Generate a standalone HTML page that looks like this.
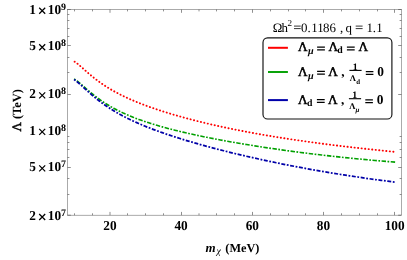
<!DOCTYPE html>
<html><head><meta charset="utf-8"><title>plot</title>
<style>
html,body{margin:0;padding:0;background:#fff;}
svg{display:block;will-change:transform;opacity:0.999}
text{font-family:"Liberation Serif",serif;font-size:13.3px;fill:#000;text-rendering:geometricPrecision}
.b{font-weight:bold}
.bi{font-weight:bold;font-style:italic}
.i{font-style:italic}
.r{font-weight:normal}
</style></head><body>
<svg width="407" height="260" viewBox="0 0 407 260">
<rect width="407" height="260" fill="#fff"/>
<rect x="67.5" y="9.5" width="334.00" height="205.70" fill="none" stroke="#666" stroke-width="0.55"/>
<path d="M74.50,215.2v-1.9M74.50,9.5v1.9M92.50,215.2v-1.9M92.50,9.5v1.9M110.00,215.2v-3.3M110.00,9.5v3.3M127.50,215.2v-1.9M127.50,9.5v1.9M145.50,215.2v-1.9M145.50,9.5v1.9M163.50,215.2v-1.9M163.50,9.5v1.9M181.50,215.2v-3.3M181.50,9.5v3.3M199.00,215.2v-1.9M199.00,9.5v1.9M216.50,215.2v-1.9M216.50,9.5v1.9M234.50,215.2v-1.9M234.50,9.5v1.9M252.50,215.2v-3.3M252.50,9.5v3.3M270.50,215.2v-1.9M270.50,9.5v1.9M288.50,215.2v-1.9M288.50,9.5v1.9M305.50,215.2v-1.9M305.50,9.5v1.9M323.50,215.2v-3.3M323.50,9.5v3.3M341.50,215.2v-1.9M341.50,9.5v1.9M359.50,215.2v-1.9M359.50,9.5v1.9M377.50,215.2v-1.9M377.50,9.5v1.9M394.50,215.2v-3.3M394.50,9.5v3.3M67.5,94.50h3.3M401.5,94.50h-3.3M67.5,72.50h1.9M401.5,72.50h-1.9M67.5,57.50h1.9M401.5,57.50h-1.9M67.5,45.50h3.3M401.5,45.50h-3.3M67.5,36.50h1.9M401.5,36.50h-1.9M67.5,28.50h1.9M401.5,28.50h-1.9M67.5,20.50h1.9M401.5,20.50h-1.9M67.5,14.50h1.9M401.5,14.50h-1.9M67.5,9.50h3.3M401.5,9.50h-3.3M67.5,215.20h3.3M401.5,215.20h-3.3M67.5,194.50h1.9M401.5,194.50h-1.9M67.5,178.50h1.9M401.5,178.50h-1.9M67.5,167.50h3.3M401.5,167.50h-3.3M67.5,157.50h1.9M401.5,157.50h-1.9M67.5,149.50h1.9M401.5,149.50h-1.9M67.5,142.50h1.9M401.5,142.50h-1.9M67.5,136.50h1.9M401.5,136.50h-1.9" fill="none" stroke="#444" stroke-width="0.6"/>
<path d="M74.58,61.65 L75.27,62.10 L75.97,62.59 L76.69,63.11 L77.42,63.68 L78.16,64.28 L78.92,64.90 L79.70,65.56 L80.49,66.24 L81.29,66.94 L82.11,67.67 L82.95,68.41 L83.80,69.16 L84.67,69.94 L85.55,70.72 L86.45,71.52 L87.37,72.32 L88.31,73.14 L89.27,73.96 L90.24,74.78 L91.23,75.61 L92.24,76.45 L93.28,77.29 L94.33,78.13 L95.40,78.97 L96.49,79.81 L97.60,80.65 L98.74,81.48 L99.90,82.32 L101.07,83.16 L102.28,83.99 L103.50,84.82 L104.75,85.65 L106.02,86.47 L107.32,87.29 L108.64,88.11 L109.99,88.93 L111.36,89.74 L112.76,90.54 L114.19,91.35 L115.65,92.15 L117.13,92.94 L118.64,93.74 L120.18,94.53 L121.75,95.31 L123.35,96.09 L124.99,96.87 L126.65,97.65 L128.35,98.42 L130.07,99.19 L131.84,99.96 L133.63,100.73 L135.46,101.49 L137.33,102.26 L139.23,103.02 L141.17,103.78 L143.14,104.54 L145.16,105.29 L147.21,106.05 L149.30,106.80 L151.43,107.56 L153.61,108.31 L155.82,109.07 L158.08,109.82 L160.39,110.58 L162.73,111.33 L165.12,112.09 L167.56,112.84 L170.05,113.60 L172.58,114.35 L175.16,115.11 L177.80,115.86 L180.48,116.62 L183.21,117.38 L186.00,118.14 L188.84,118.90 L191.74,119.66 L194.69,120.42 L197.70,121.18 L200.77,121.94 L203.89,122.70 L207.08,123.46 L210.33,124.22 L213.64,124.98 L217.01,125.74 L220.45,126.50 L223.96,127.26 L227.53,128.02 L231.18,128.78 L234.89,129.54 L238.68,130.29 L242.53,131.05 L246.47,131.80 L250.48,132.55 L254.56,133.30 L258.73,134.05 L262.97,134.79 L267.30,135.53 L271.71,136.27 L276.21,137.01 L280.79,137.74 L285.46,138.47 L290.22,139.20 L295.08,139.92 L300.02,140.64 L305.07,141.36 L310.21,142.07 L315.44,142.78 L320.78,143.49 L326.23,144.19 L331.78,144.89 L337.43,145.58 L343.20,146.27 L349.07,146.96 L355.06,147.65 L361.17,148.33 L367.39,149.01 L373.73,149.69 L380.20,150.36 L386.79,151.04 L393.51,151.71" fill="none" stroke="#ff0000" stroke-width="1.9" stroke-linecap="round" stroke-dasharray="0.2 3.3435"/>
<path d="M74.12,79.02 L74.80,79.43 L75.50,79.88 L76.22,80.37 L76.94,80.90 L77.68,81.47 L78.44,82.07 L79.21,82.69 L80.00,83.34 L80.80,84.02 L81.61,84.72 L82.45,85.44 L83.30,86.18 L84.16,86.94 L85.04,87.71 L85.94,88.49 L86.86,89.28 L87.79,90.09 L88.75,90.90 L89.72,91.72 L90.71,92.55 L91.72,93.38 L92.74,94.22 L93.79,95.06 L94.86,95.90 L95.95,96.74 L97.06,97.58 L98.20,98.42 L99.35,99.25 L100.53,100.09 L101.73,100.92 L102.95,101.75 L104.20,102.58 L105.47,103.40 L106.77,104.22 L108.09,105.03 L109.44,105.84 L110.81,106.64 L112.21,107.44 L113.64,108.23 L115.10,109.02 L116.58,109.80 L118.09,110.57 L119.64,111.34 L121.21,112.10 L122.81,112.85 L124.45,113.60 L126.11,114.34 L127.81,115.08 L129.54,115.81 L131.31,116.54 L133.10,117.26 L134.94,117.97 L136.81,118.68 L138.71,119.39 L140.66,120.08 L142.64,120.78 L144.66,121.47 L146.72,122.16 L148.82,122.84 L150.96,123.52 L153.14,124.19 L155.36,124.87 L157.63,125.53 L159.94,126.20 L162.30,126.87 L164.70,127.53 L167.15,128.19 L169.64,128.85 L172.19,129.50 L174.78,130.16 L177.43,130.81 L180.12,131.46 L182.87,132.12 L185.68,132.77 L188.53,133.42 L191.45,134.07 L194.41,134.72 L197.44,135.38 L200.53,136.03 L203.67,136.68 L206.88,137.33 L210.15,137.99 L213.48,138.64 L216.88,139.29 L220.34,139.95 L223.88,140.60 L227.48,141.26 L231.15,141.92 L234.89,142.58 L238.70,143.23 L242.59,143.89 L246.55,144.55 L250.60,145.21 L254.71,145.87 L258.91,146.53 L263.20,147.19 L267.56,147.85 L272.01,148.51 L276.55,149.16 L281.17,149.82 L285.89,150.48 L290.69,151.13 L295.59,151.78 L300.59,152.43 L305.68,153.07 L310.87,153.72 L316.17,154.36 L321.56,154.99 L327.06,155.62 L332.67,156.25 L338.39,156.87 L344.21,157.49 L350.16,158.09 L356.21,158.70 L362.39,159.29 L368.68,159.88 L375.10,160.46 L381.64,161.03 L388.31,161.59 L395.11,162.13" fill="none" stroke="#00a000" stroke-width="1.6" stroke-dasharray="1.7103 1.5091 4.4268 1.5091"/>
<path d="M74.12,79.50 L74.80,79.97 L75.50,80.49 L76.21,81.04 L76.94,81.62 L77.68,82.24 L78.44,82.89 L79.21,83.56 L79.99,84.26 L80.79,84.98 L81.61,85.72 L82.44,86.48 L83.29,87.26 L84.15,88.05 L85.03,88.86 L85.93,89.68 L86.85,90.51 L87.78,91.35 L88.73,92.20 L89.70,93.06 L90.69,93.93 L91.70,94.80 L92.73,95.68 L93.78,96.56 L94.85,97.45 L95.94,98.33 L97.05,99.22 L98.18,100.11 L99.33,101.00 L100.51,101.89 L101.71,102.78 L102.93,103.67 L104.18,104.56 L105.45,105.45 L106.74,106.33 L108.06,107.21 L109.41,108.09 L110.78,108.97 L112.18,109.85 L113.61,110.72 L115.06,111.59 L116.54,112.46 L118.05,113.32 L119.59,114.18 L121.16,115.04 L122.76,115.90 L124.40,116.75 L126.06,117.60 L127.76,118.45 L129.48,119.29 L131.25,120.14 L133.04,120.98 L134.88,121.82 L136.74,122.65 L138.65,123.49 L140.59,124.32 L142.57,125.16 L144.58,125.99 L146.64,126.82 L148.74,127.65 L150.87,128.49 L153.05,129.32 L155.27,130.15 L157.54,130.98 L159.84,131.82 L162.20,132.65 L164.59,133.49 L167.04,134.32 L169.53,135.16 L172.07,136.00 L174.66,136.85 L177.31,137.69 L180.00,138.54 L182.74,139.39 L185.54,140.25 L188.39,141.10 L191.30,141.96 L194.26,142.83 L197.29,143.69 L200.37,144.56 L203.51,145.44 L206.71,146.32 L209.97,147.20 L213.30,148.08 L216.69,148.97 L220.15,149.87 L223.68,150.76 L227.27,151.67 L230.93,152.57 L234.67,153.48 L238.48,154.39 L242.36,155.31 L246.32,156.23 L250.35,157.15 L254.46,158.07 L258.65,159.00 L262.93,159.93 L267.28,160.87 L271.73,161.80 L276.25,162.74 L280.87,163.68 L285.58,164.62 L290.37,165.56 L295.26,166.50 L300.25,167.44 L305.33,168.38 L310.51,169.32 L315.80,170.26 L321.18,171.20 L326.67,172.13 L332.27,173.06 L337.97,173.99 L343.79,174.92 L349.72,175.84 L355.76,176.75 L361.92,177.66 L368.20,178.56 L374.61,179.45 L381.14,180.34 L387.79,181.22 L394.58,182.09" fill="none" stroke="#0000a8" stroke-width="1.75" stroke-dasharray="1.7896 1.5907 3.9768 1.5907"/>
<text x="109.90" y="230.2" class="b" text-anchor="middle" transform="matrix(1 0 0 1.03 0 -6.906)">20</text>
<text x="181.10" y="230.2" class="b" text-anchor="middle" transform="matrix(1 0 0 1.03 0 -6.906)">40</text>
<text x="252.30" y="230.2" class="b" text-anchor="middle" transform="matrix(1 0 0 1.03 0 -6.906)">60</text>
<text x="323.50" y="230.2" class="b" text-anchor="middle" transform="matrix(1 0 0 1.03 0 -6.906)">80</text>
<text x="394.70" y="230.2" class="b" text-anchor="middle" transform="matrix(1 0 0 1.03 0 -6.906)">100</text>
<text x="29.3" y="13.80" class="b" transform="matrix(1 0 0 1.03 0 -0.414)">1</text>
<path d="M39.20,7.80L45.20,13.80M39.20,13.80L45.20,7.80" stroke="#000" stroke-width="1.25" fill="none"/>
<text x="47.8" y="13.80" class="b" transform="matrix(1 0 0 1.03 0 -0.414)">10</text>
<text x="61.1" y="9.80" class="b" style="font-size:10.0px">9</text>
<text x="29.3" y="50.25" class="b" transform="matrix(1 0 0 1.03 0 -1.508)">5</text>
<path d="M39.20,44.25L45.20,50.25M39.20,50.25L45.20,44.25" stroke="#000" stroke-width="1.25" fill="none"/>
<text x="47.8" y="50.25" class="b" transform="matrix(1 0 0 1.03 0 -1.508)">10</text>
<text x="61.1" y="46.25" class="b" style="font-size:10.0px">8</text>
<text x="29.3" y="98.43" class="b" transform="matrix(1 0 0 1.03 0 -2.953)">2</text>
<path d="M39.20,92.43L45.20,98.43M39.20,98.43L45.20,92.43" stroke="#000" stroke-width="1.25" fill="none"/>
<text x="47.8" y="98.43" class="b" transform="matrix(1 0 0 1.03 0 -2.953)">10</text>
<text x="61.1" y="94.43" class="b" style="font-size:10.0px">8</text>
<text x="29.3" y="134.87" class="b" transform="matrix(1 0 0 1.03 0 -4.046)">1</text>
<path d="M39.20,128.87L45.20,134.87M39.20,134.87L45.20,128.87" stroke="#000" stroke-width="1.25" fill="none"/>
<text x="47.8" y="134.87" class="b" transform="matrix(1 0 0 1.03 0 -4.046)">10</text>
<text x="61.1" y="130.87" class="b" style="font-size:10.0px">8</text>
<text x="29.3" y="171.32" class="b" transform="matrix(1 0 0 1.03 0 -5.140)">5</text>
<path d="M39.20,165.32L45.20,171.32M39.20,171.32L45.20,165.32" stroke="#000" stroke-width="1.25" fill="none"/>
<text x="47.8" y="171.32" class="b" transform="matrix(1 0 0 1.03 0 -5.140)">10</text>
<text x="61.1" y="167.32" class="b" style="font-size:10.0px">7</text>
<text x="29.3" y="220.00" class="b" transform="matrix(1 0 0 1.03 0 -6.600)">2</text>
<path d="M39.20,214.00L45.20,220.00M39.20,220.00L45.20,214.00" stroke="#000" stroke-width="1.25" fill="none"/>
<text x="47.8" y="220.00" class="b" transform="matrix(1 0 0 1.03 0 -6.600)">10</text>
<text x="61.1" y="216.00" class="b" style="font-size:10.0px">7</text>
<g transform="translate(20.5,131.4) rotate(-90)"><text x="-0.2" y="0" class="r" style="font-size:12.8px" stroke="#000" stroke-width="0.5">Λ</text><text x="12.3" y="0" class="b" style="font-size:12.5px">(TeV)</text></g>
<text x="205.6" y="251.5" class="bi" style="font-size:13.0px">m</text>
<text x="216.6" y="254.3" class="i" style="font-size:9.8px">χ</text>
<text x="225.3" y="251.5" class="b" style="font-size:12.3px">(MeV)</text>
<text x="272.8 281.5" y="31.5" class="r" style="font-size:12.9px">Ωh</text>
<text x="287.6" y="26.0" class="r" style="font-size:9.1px">2</text>
<path d="M294.0,26.10H300.7M294.0,28.60H300.7" stroke="#000" stroke-width="0.8" fill="none"/>
<text x="301.0 307.5 311.3 317.2 323.0 329.5" y="31.5" class="r" style="font-size:12.9px">0.1186</text>
<text x="339.9" y="31.5" class="r" style="font-size:12.9px">,</text>
<text x="345.5" y="31.5" class="r" style="font-size:12.9px">q</text>
<path d="M355.7,26.10H362.6M355.7,28.60H362.6" stroke="#000" stroke-width="0.8" fill="none"/>
<text x="366.5 372.8 376.3" y="31.5" class="r" style="font-size:12.9px">1.1</text>
<rect x="263.0" y="37.85" width="128.9" height="81.2" rx="4.6" ry="4.6" fill="#fff" stroke="#111" stroke-width="1.15"/>
<path d="M268,47.8h19.9" stroke="#ff0000" stroke-width="2"/>
<path d="M268,72h19.9" stroke="#0aa30a" stroke-width="2"/>
<path d="M268,100.1h19.9" stroke="#0000aa" stroke-width="2"/>
<text x="298.09999999999997" y="51.3" class="r" style="font-size:13.2px" stroke="#000" stroke-width="0.5">Λ</text>
<text x="308.1" y="54.3" class="bi" style="font-size:10.2px">μ</text>
<path d="M317.1,47.15H324.9M317.1,49.90H324.9" stroke="#000" stroke-width="1.25" fill="none"/>
<text x="328.4" y="51.3" class="r" style="font-size:13.2px" stroke="#000" stroke-width="0.5">Λ</text>
<text x="337.2" y="53.3" class="b" style="font-size:9.8px">d</text>
<path d="M346.9,47.15H354.7M346.9,49.90H354.7" stroke="#000" stroke-width="1.25" fill="none"/>
<text x="358.4" y="51.3" class="r" style="font-size:13.2px" stroke="#000" stroke-width="0.5">Λ</text>
<text x="298.09999999999997" y="75.5" class="r" style="font-size:13.2px" stroke="#000" stroke-width="0.5">Λ</text>
<text x="308.1" y="78.5" class="bi" style="font-size:10.2px">μ</text>
<path d="M317.1,71.35H324.9M317.1,74.10H324.9" stroke="#000" stroke-width="1.25" fill="none"/>
<text x="328.2" y="75.5" class="r" style="font-size:13.2px" stroke="#000" stroke-width="0.5">Λ</text>
<text x="341.3" y="75.5" class="b" style="font-size:13.4px">,</text>
<text x="355.3" y="70.00" class="b" style="font-size:9.8px" text-anchor="middle">1</text>
<path d="M349.40,70.40H361.60" stroke="#000" stroke-width="1.1"/>
<text x="349.7" y="80.70" class="b" style="font-size:8.6px">Λ</text>
<text x="356.3" y="84.00" class="b" style="font-size:6.9px">d</text>
<path d="M365.8,71.55H373.4M365.8,74.30H373.4" stroke="#000" stroke-width="1.25" fill="none"/>
<text x="377.2" y="75.7" class="b" style="font-size:13.4px">0</text>
<text x="298.09999999999997" y="103.8" class="r" style="font-size:13.2px" stroke="#000" stroke-width="0.5">Λ</text>
<text x="307.09999999999997" y="105.8" class="b" style="font-size:9.8px">d</text>
<path d="M316.9,99.65H324.7M316.9,102.40H324.7" stroke="#000" stroke-width="1.25" fill="none"/>
<text x="328.0" y="103.8" class="r" style="font-size:13.2px" stroke="#000" stroke-width="0.5">Λ</text>
<text x="341.1" y="103.8" class="b" style="font-size:13.4px">,</text>
<text x="354.8" y="98.30" class="b" style="font-size:9.8px" text-anchor="middle">1</text>
<path d="M348.90,98.70H361.10" stroke="#000" stroke-width="1.1"/>
<text x="349.2" y="109.00" class="b" style="font-size:8.6px">Λ</text>
<text x="355.5" y="111.80" class="bi" style="font-size:7.0px">μ</text>
<path d="M365.3,99.85H372.9M365.3,102.60H372.9" stroke="#000" stroke-width="1.25" fill="none"/>
<text x="376.7" y="104.0" class="b" style="font-size:13.4px">0</text>
</svg>
</body></html>
